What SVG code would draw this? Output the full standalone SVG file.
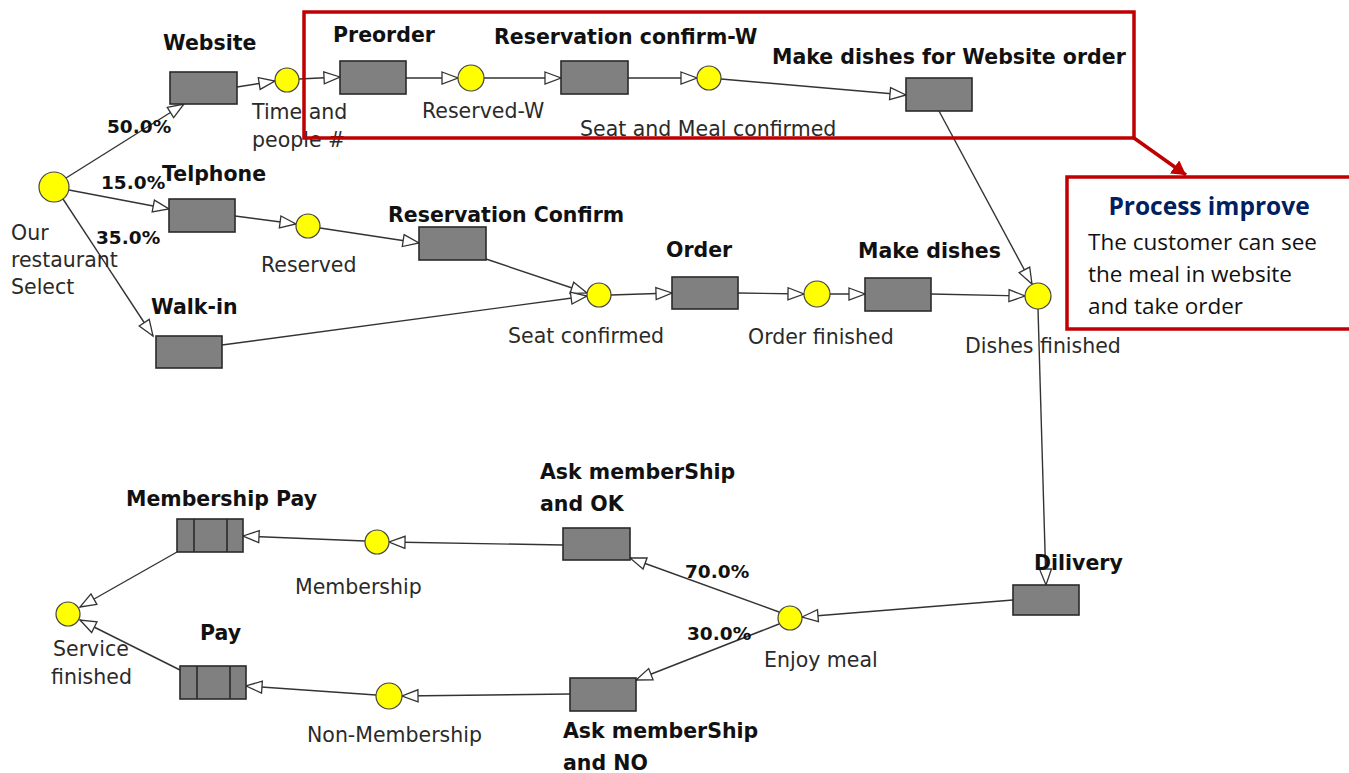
<svg xmlns="http://www.w3.org/2000/svg" width="1349" height="773" viewBox="0 0 1349 773">
  <style>
    .place { fill: #ffff00; stroke: #444; stroke-width: 1.2; }
    .trans { fill: #808080; stroke: #2a2a2a; stroke-width: 1.6; }
    .bar { stroke: #2a2a2a; stroke-width: 1.6; }
    .edge { fill: none; stroke: #333; stroke-width: 1.4; marker-end: url(#arrow); }
    .name { font-family: "DejaVu Sans", sans-serif; font-weight: bold; font-size: 20.5px; fill: #111; }
    .pct { font-family: "DejaVu Sans", sans-serif; font-weight: bold; font-size: 18.5px; fill: #111; }
    .lbl { font-family: "DejaVu Sans", sans-serif; font-size: 20.5px; fill: #2a2a2a; }
    .hl { fill: none; stroke: #c00000; stroke-width: 3.5; }
    .note-title { font-family: "Open Sans", "Noto Sans", sans-serif; font-weight: bold; font-size: 24.5px; fill: #002060; }
    .note { font-family: "Open Sans", "Noto Sans", sans-serif; font-size: 22.5px; fill: #111; }
  </style>
  <defs>
    <marker id="arrow" viewBox="0 0 16 12" refX="16" refY="6" markerWidth="16" markerHeight="12" markerUnits="userSpaceOnUse" orient="auto" overflow="visible">
      <path d="M0,0 L16,6 L0,12 Z" fill="#fff" stroke="#333" stroke-width="1.3"/>
    </marker>
    <marker id="redhead" viewBox="0 0 14 16" refX="14" refY="8" markerWidth="14" markerHeight="16" markerUnits="userSpaceOnUse" orient="auto">
      <path d="M0,0 L14,8 L0,16 Z" fill="#c00000"/>
    </marker>
  </defs>

  <rect width="1349" height="773" fill="#fff"/>

  <!-- arcs between places and transitions -->
  <g id="connectors">
    <path class="edge" d="M66,178 L184,104"/>
    <path class="edge" d="M237,87 L275,81"/>
    <path class="edge" d="M299,79 L340,77"/>
    <path class="edge" d="M406,78 L458,78"/>
    <path class="edge" d="M484,78 L561,78"/>
    <path class="edge" d="M628,78 L697,78"/>
    <path class="edge" d="M721,79 L906,95"/>
    <path class="edge" d="M69,190 L169,209"/>
    <path class="edge" d="M235,216 L296,224"/>
    <path class="edge" d="M320,228 L419,243"/>
    <path class="edge" d="M486,259 L587,293"/>
    <path class="edge" d="M63,199 L153,336"/>
    <path class="edge" d="M222,345 L587,296"/>
    <path class="edge" d="M611,295 L672,293"/>
    <path class="edge" d="M738,293 L804,294"/>
    <path class="edge" d="M830,294 L865,294"/>
    <path class="edge" d="M931,294 L1025,296"/>
    <path class="edge" d="M939,111 L1032,284"/>
    <path class="edge" d="M1038,309 L1046,585"/>
    <path class="edge" d="M1013,600 L802,617"/>
    <path class="edge" d="M779,612 L630,558"/>
    <path class="edge" d="M779,624 L636,680"/>
    <path class="edge" d="M563,545 L389,542"/>
    <path class="edge" d="M365,541 L243,536"/>
    <path class="edge" d="M570,694 L402,696"/>
    <path class="edge" d="M376,695 L246,686"/>
    <path class="edge" d="M177,552 L80,607"/>
    <path class="edge" d="M180,670 L80,620"/>
    <text class="pct" x="107" y="133">50.0%</text>
    <text class="pct" x="101" y="189">15.0%</text>
    <text class="pct" x="96" y="244">35.0%</text>
    <text class="pct" x="685" y="578">70.0%</text>
    <text class="pct" x="687" y="640">30.0%</text>
  </g>

  <!-- places -->
  <g id="p-select"><circle class="place" cx="54" cy="187" r="15"/>
    <text class="lbl" x="11" y="240">Our</text><text class="lbl" x="11" y="267">restaurant</text><text class="lbl" x="11" y="294">Select</text></g>
  <g id="p-time"><circle class="place" cx="287" cy="80" r="12"/>
    <text class="lbl" x="252" y="119">Time and</text><text class="lbl" x="252" y="147">people #</text></g>
  <g id="p-reserved-w"><circle class="place" cx="471" cy="78" r="13"/>
    <text class="lbl" x="422" y="118">Reserved-W</text></g>
  <g id="p-seat-meal"><circle class="place" cx="709" cy="78" r="12"/>
    <text class="lbl" x="580" y="136">Seat and Meal confirmed</text></g>
  <g id="p-reserved"><circle class="place" cx="308" cy="226" r="12"/>
    <text class="lbl" x="261" y="272">Reserved</text></g>
  <g id="p-seat"><circle class="place" cx="599" cy="295" r="12"/>
    <text class="lbl" x="508" y="343">Seat confirmed</text></g>
  <g id="p-order-finished"><circle class="place" cx="817" cy="294" r="13"/>
    <text class="lbl" x="748" y="344">Order finished</text></g>
  <g id="p-dishes-finished"><circle class="place" cx="1038" cy="296" r="13"/>
    <text class="lbl" x="965" y="353">Dishes finished</text></g>
  <g id="p-enjoy"><circle class="place" cx="790" cy="618" r="12"/>
    <text class="lbl" x="764" y="667">Enjoy meal</text></g>
  <g id="p-membership"><circle class="place" cx="377" cy="542" r="12"/>
    <text class="lbl" x="295" y="594">Membership</text></g>
  <g id="p-non-membership"><circle class="place" cx="389" cy="696" r="13"/>
    <text class="lbl" x="307" y="742">Non-Membership</text></g>
  <g id="p-service"><circle class="place" cx="68" cy="614" r="12"/>
    <text class="lbl" x="53" y="656">Service</text><text class="lbl" x="51" y="684">finished</text></g>

  <!-- transitions -->
  <g id="t-website"><rect class="trans" x="170" y="72" width="67" height="32"/>
    <text class="name" x="163" y="50">Website</text></g>
  <g id="t-preorder"><rect class="trans" x="340" y="61" width="66" height="33"/>
    <text class="name" x="333" y="42">Preorder</text></g>
  <g id="t-res-confirm-w"><rect class="trans" x="561" y="61" width="67" height="33"/>
    <text class="name" x="494" y="44">Reservation confirm-W</text></g>
  <g id="t-dishes-web"><rect class="trans" x="906" y="78" width="66" height="33"/>
    <text class="name" x="772" y="64">Make dishes for Website order</text></g>
  <g id="t-telphone"><rect class="trans" x="169" y="199" width="66" height="33"/>
    <text class="name" x="162" y="181">Telphone</text></g>
  <g id="t-res-confirm"><rect class="trans" x="419" y="227" width="67" height="33"/>
    <text class="name" x="388" y="222">Reservation Confirm</text></g>
  <g id="t-walkin"><rect class="trans" x="156" y="336" width="66" height="32"/>
    <text class="name" x="151" y="314">Walk-in</text></g>
  <g id="t-order"><rect class="trans" x="672" y="277" width="66" height="32"/>
    <text class="name" x="666" y="257">Order</text></g>
  <g id="t-make-dishes"><rect class="trans" x="865" y="278" width="66" height="33"/>
    <text class="name" x="858" y="258">Make dishes</text></g>
  <g id="t-delivery"><rect class="trans" x="1013" y="585" width="66" height="30"/>
    <text class="name" x="1034" y="570">Dilivery</text></g>
  <g id="t-ask-ok"><rect class="trans" x="563" y="528" width="67" height="32"/>
    <text class="name" x="540" y="479">Ask memberShip</text><text class="name" x="540" y="511">and OK</text></g>
  <g id="t-ask-no"><rect class="trans" x="570" y="678" width="66" height="33"/>
    <text class="name" x="563" y="738">Ask memberShip</text><text class="name" x="563" y="770">and NO</text></g>
  <g id="t-membership-pay"><rect class="trans" x="177" y="519" width="66" height="33"/>
    <line class="bar" x1="194" y1="519" x2="194" y2="552"/><line class="bar" x1="227" y1="519" x2="227" y2="552"/>
    <text class="name" x="126" y="506">Membership Pay</text></g>
  <g id="t-pay"><rect class="trans" x="180" y="666" width="66" height="33"/>
    <line class="bar" x1="197" y1="666" x2="197" y2="699"/><line class="bar" x1="230" y1="666" x2="230" y2="699"/>
    <text class="name" x="200" y="640">Pay</text></g>

  <!-- highlighted website branch and its note -->
  <g id="improvement">
    <rect class="hl" x="304" y="12" width="830" height="126"/>
    <path d="M1134,138 L1186,175" stroke="#c00000" stroke-width="3.5" fill="none" marker-end="url(#redhead)"/>
    <rect class="hl" x="1067" y="177" width="300" height="152" style="fill:#fff"/>
    <text class="note-title" x="1209" y="215" text-anchor="middle">Process improve</text>
    <text class="note" x="1088" y="250">The customer can see</text>
    <text class="note" x="1088" y="282">the meal in website</text>
    <text class="note" x="1088" y="314">and take order</text>
  </g>
</svg>
